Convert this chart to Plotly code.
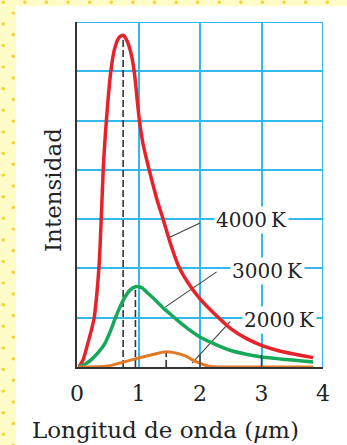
import plotly.graph_objects as go

# ---------------- data ----------------
wavelength_4000 = [0.03, 0.10, 0.18, 0.24, 0.28, 0.32, 0.35, 0.37, 0.39, 0.41, 0.43,
                   0.46, 0.50, 0.55, 0.61, 0.68, 0.75, 0.82, 0.89, 0.94, 0.98, 1.02,
                   1.07, 1.13, 1.20, 1.30, 1.40, 1.52, 1.65, 1.80, 2.00, 2.25, 2.50,
                   2.75, 3.00, 3.25, 3.50, 3.84]
intensity_4000 = [0.0, 0.15, 0.50, 0.78, 1.0, 1.45, 1.9, 2.3, 2.9, 3.5, 4.1,
                  4.7, 5.35, 6.0, 6.45, 6.68, 6.73, 6.6, 6.3, 5.9, 5.4, 4.95,
                  4.55, 4.22, 3.87, 3.4, 3.0, 2.5, 2.05, 1.72, 1.38, 1.06, 0.78,
                  0.58, 0.44, 0.34, 0.27, 0.19]

wavelength_3000 = [0.03, 0.15, 0.25, 0.35, 0.45, 0.55, 0.625, 0.70, 0.78, 0.86, 0.95,
                   1.05, 1.15, 1.28, 1.41, 1.52, 1.63, 1.80, 2.00, 2.25, 2.49, 2.75,
                   2.98, 3.25, 3.50, 3.84]
intensity_3000 = [0.0, 0.07, 0.17, 0.30, 0.47, 0.75, 1.0, 1.22, 1.42, 1.56, 1.63,
                  1.61, 1.50, 1.35, 1.19, 1.07, 0.95, 0.78, 0.61, 0.46, 0.34, 0.26,
                  0.21, 0.17, 0.14, 0.10]

wavelength_2000 = [0.03, 0.5, 0.87, 1.19, 1.45, 1.73, 1.95, 2.17, 2.5, 3.0, 3.84]
intensity_2000 = [0.0, 0.02, 0.14, 0.24, 0.31, 0.24, 0.10, 0.01, 0.0, 0.0, 0.0]

curve_labels = ["4000\u2009K", "3000\u2009K", "2000\u2009K"]
x_ticks = [0, 1, 2, 3, 4]
x_tick_labels = ["0", "1", "2", "3", "4"]
inner_ticks = [2, 3]
x_title = "Longitud de onda (<i>\u00b5</i>m)"
y_title = "Intensidad"

# label placement (layout)
label_pos = [(2.84, 3.03), (3.10, 1.98), (3.30, 1.00)]
leader_from = [(1.49, 2.62), (1.44, 1.22), (1.87, 0.08)]
leader_to = [(2.0, 2.92), (2.27, 1.93), (2.49, 0.92)]

# ---------------- styling ----------------
RED, GREEN, ORANGE = "#e8222b", "#18a85a", "#e07a26"
BLUE = "#33b9ec"
DARK = "#333333"
FONT = "DejaVu Serif"

W, H = 347, 445
L, R, T, B = 77, 24, 22, 78
PW, PH = W - L - R, H - T - B


def pxx(px):
    return (px - L) / PW


def pxy(py):
    return (T + PH - py) / PH


series = [
    (wavelength_4000, intensity_4000, RED, 3.5),
    (wavelength_3000, intensity_3000, GREEN, 3.5),
    (wavelength_2000, intensity_2000, ORANGE, 3.0),
]

fig = go.Figure()

# dashed lines at each peak
for xs, ys, col, w in series:
    i = ys.index(max(ys))
    fig.add_trace(go.Scatter(x=[xs[i], xs[i]], y=[0, ys[i]], mode="lines",
                             line=dict(color=DARK, width=1.6, dash="7px,3px"),
                             hoverinfo="skip", showlegend=False))

# leader lines
for (x0, y0), (x1, y1) in zip(leader_from, leader_to):
    fig.add_trace(go.Scatter(x=[x0, x1], y=[y0, y1], mode="lines",
                             line=dict(color="#444444", width=1.1),
                             hoverinfo="skip", showlegend=False))

# curves
for xs, ys, col, w in series:
    fig.add_trace(go.Scatter(x=xs, y=ys, mode="lines",
                             line=dict(color=col, width=w, shape="spline", smoothing=0.7),
                             hoverinfo="skip", showlegend=False))

shapes = []
# white panel over yellow page
shapes.append(dict(type="rect", xref="paper", yref="paper",
                   x0=pxx(16), x1=pxx(W + 20), y0=pxy(H + 20), y1=pxy(6),
                   fillcolor="white", line=dict(width=0), layer="below"))
# dotted decoration on the yellow margin
step = 21.6
dots = []
k = 0
while 3.3 + k * step < W + 5:
    dots.append((3.3 + k * step, 2.3))
    k += 1
j = 1
while 2.3 + j * step / 2 < H + 5:
    yy = 2.3 + j * step / 2
    xx = 13.3 if j % 2 == 1 else 3.3
    dots.append((xx, yy))
    j += 1
for (dx, dy) in dots:
    r = 1.7
    shapes.append(dict(type="circle", xref="paper", yref="paper",
                       x0=pxx(dx - r), x1=pxx(dx + r), y0=pxy(dy + r), y1=pxy(dy - r),
                       fillcolor="#f7cf2e", line=dict(width=0), layer="above"))
# blue top / right border of grid
shapes.append(dict(type="line", xref="x", yref="y", x0=0, x1=4, y0=7, y1=7,
                   line=dict(color=BLUE, width=2)))
shapes.append(dict(type="line", xref="x", yref="y", x0=4, x1=4, y0=0, y1=7,
                   line=dict(color=BLUE, width=2)))
# short dark inner tick marks on the wavelength axis
for tv in inner_ticks:
    shapes.append(dict(type="line", xref="x", yref="paper", x0=tv, x1=tv,
                       y0=0, y1=12 / PH, line=dict(color="#444444", width=1.5)))

annotations = []
for text, (lx, ly) in zip(curve_labels, label_pos):
    annotations.append(dict(x=lx, y=ly, xref="x", yref="y", text=text, showarrow=False,
                            font=dict(family=FONT, size=20, color="#222222"),
                            bgcolor="white", borderpad=1, yshift=-2))
annotations.append(dict(x=pxx(165), y=pxy(430), xref="paper", yref="paper",
                        text=x_title, showarrow=False,
                        font=dict(family=FONT, size=23, color="#222222"),
                        xanchor="center", yanchor="middle"))
annotations.append(dict(x=pxx(53), y=pxy(190), xref="paper", yref="paper",
                        text=y_title, showarrow=False, textangle=-90,
                        font=dict(family=FONT, size=23, color="#222222"),
                        xanchor="center", yanchor="middle"))

fig.update_layout(
    width=W, height=H, autosize=False,
    margin=dict(l=L, r=R, t=T, b=B, pad=0),
    paper_bgcolor="#fffcc8", plot_bgcolor="white",
    shapes=shapes, annotations=annotations,
    xaxis=dict(range=[0, 4], tickvals=x_ticks, ticktext=x_tick_labels,
               showgrid=True, gridcolor=BLUE, gridwidth=2, zeroline=False,
               showline=True, linecolor=DARK, linewidth=2, ticks="",
               ticklabelstandoff=6,
               tickfont=dict(family=FONT, size=22, color="#222222"), fixedrange=True),
    yaxis=dict(range=[0, 7], dtick=1, showgrid=True, gridcolor=BLUE, gridwidth=2,
               zeroline=False, showline=True, linecolor=DARK, linewidth=2,
               showticklabels=False, ticks="", fixedrange=True),
)

fig.write_html("out.html", config={"displayModeBar": False},
               post_script="document.body.style.margin='0';")
